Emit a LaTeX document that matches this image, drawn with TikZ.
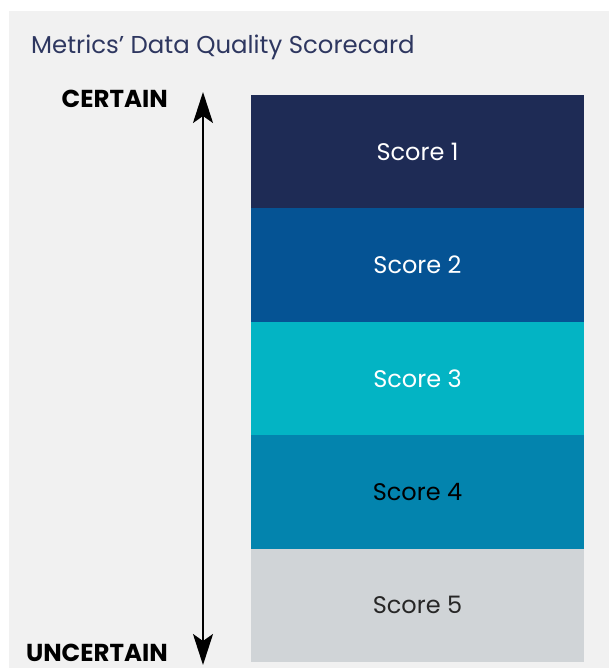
\documentclass[tikz,border=0pt]{standalone}
\usepackage{fontspec}
\setmainfont{Poppins}
\usetikzlibrary{arrows.meta}
\definecolor{bgc}{HTML}{F1F1F1}
\definecolor{titlec}{HTML}{2E3760}
\definecolor{sone}{HTML}{1E2B55}
\definecolor{stwo}{HTML}{055394}
\definecolor{sthree}{HTML}{03B4C4}
\definecolor{sfour}{HTML}{0384AE}
\definecolor{sfive}{HTML}{D0D4D7}
\tikzset{
  scorebox/.style={draw=none, minimum width=333pt, minimum height=113.6pt, inner sep=0pt, font=\fontsize{24}{28}\selectfont, text=white},
  axislabel/.style={font=\fontsize{24.5}{28}\selectfont\bfseries, text=black, inner sep=0pt, text depth=0pt, anchor=base east},
  axisline/.style={line width=2pt, {Stealth[length=31pt,width=20pt,inset=7pt]}-{Stealth[length=31pt,width=20pt,inset=7pt]}}
}
\begin{document}
\begin{tikzpicture}[x=1pt,y=1pt]
\useasboundingbox (0,0) rectangle (609,-668);
\fill[white] (0,0) rectangle (609,-668);
\fill[bgc] (9,-11) rectangle (609,-668);
\node[anchor=west, inner sep=0pt, text=titlec, font=\fontsize{24.4}{28}\selectfont] (title) at (31,-47) {Metrics’ Data Quality Scorecard};
\node[scorebox, fill=sone] (s1) at (417.5,-151.7) {Score 1};
\node[scorebox, fill=stwo] (s2) at (417.5,-265.1) {Score 2};
\node[scorebox, fill=sthree] (s3) at (417.5,-378.5) {Score 3};
\node[scorebox, fill=sfour, text=black] (s4) at (417.5,-491.9) {Score 4};
\node[scorebox, fill=sfive, text=black!85] (s5) at (417.5,-605.3) {Score 5};
\node[axislabel] (certain) at (168,-108) {CERTAIN};
\node[axislabel] (uncertain) at (168,-661) {UNCERTAIN};
\coordinate (top) at (203,-92);
\coordinate (bot) at (203,-665);
\draw[axisline] (top) -- (bot);
\end{tikzpicture}
\end{document}
